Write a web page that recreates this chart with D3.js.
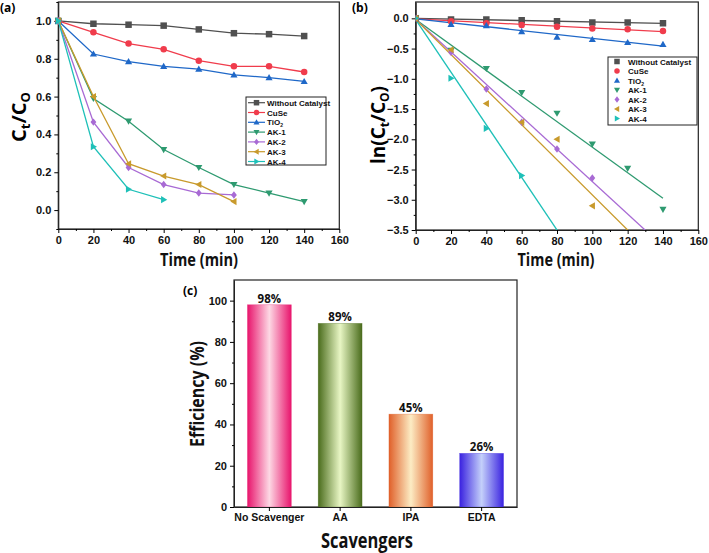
<!DOCTYPE html>
<html><head><meta charset="utf-8">
<script src="https://cdn.jsdelivr.net/npm/d3@7"></script>
<style>
body{margin:0;background:#fff;}
svg{font-family:"Open Sans",sans-serif;}
.tick text{font-weight:700;font-size:11px;fill:#111;}
.domain{stroke:#222;}
</style></head><body>
<svg id="c" width="709" height="553"></svg>
<script>
// ---------- data ----------
const times = [0,20,40,60,80,100,120,140];
const seriesNames = ["Without Catalyst","CuSe","TiO2","AK-1","AK-2","AK-3","AK-4"];
const seriesColors = ["#505050","#f03c4c","#1f68c8","#2e9a70","#a86ad4","#c89a2c","#1ec0b8"];
const seriesSymbols = ["square","circle","up","down","diamond","left","right"];
const ratioWithout = [1.0,0.985,0.98,0.975,0.955,0.935,0.93,0.92];
const ratioCuSe    = [1.0,0.94,0.88,0.85,0.79,0.76,0.76,0.73];
const ratioTiO2    = [1.0,0.825,0.785,0.76,0.745,0.715,0.70,0.68];
const ratioAK1     = [1.0,0.59,0.47,0.32,0.225,0.135,0.09,0.045];
const ratioAK2     = [1.0,0.465,0.225,0.135,0.09,0.08];
const ratioAK3     = [1.0,0.60,0.245,0.18,0.135,0.045];
const ratioAK4     = [1.0,0.335,0.11,0.055];
const lnWithout = [0,-0.02,-0.02,-0.03,-0.05,-0.07,-0.07,-0.08];
const lnCuSe    = [0,-0.05,-0.08,-0.11,-0.14,-0.17,-0.18,-0.21];
const lnTiO2    = [0,-0.10,-0.12,-0.22,-0.31,-0.35,-0.40,-0.43];
const lnAK1     = [0,-0.53,-0.83,-1.23,-1.57,-2.08,-2.48,-3.16];
const lnAK2     = [0,-0.56,-1.17,-1.72,-2.16,-2.64];
const lnAK3     = [0,-0.52,-1.41,-1.72,-2.00,-3.10];
const lnAK4     = [0,-0.99,-1.82,-2.60];
const fitIntercept = [0,-0.01,-0.01,-0.02,-0.02,-0.02,-0.02];
const fitSlope     = [-0.0006,-0.0015,-0.0032,-0.0211,-0.0268,-0.0290,-0.0435];
const scavengers = ["No Scavenger","AA","IPA","EDTA"];
const efficiency = [98,89,45,26];
const barEdge   = ["#e8146c","#4a6c1c","#e0602a","#3a22e0"];
const barCenter = ["#fdd8e4","#e8f6c4","#fcecc4","#c4d0fa"];
const xTicksTime = [0,20,40,60,80,100,120,140,160];
const yTicksA = [0,0.2,0.4,0.6,0.8,1.0];
const yTicksB = [0,-0.5,-1.0,-1.5,-2.0,-2.5,-3.0,-3.5];
const yTicksC = [0,20,40,60,80,100];

const ratioData = [ratioWithout,ratioCuSe,ratioTiO2,ratioAK1,ratioAK2,ratioAK3,ratioAK4];
const lnData = [lnWithout,lnCuSe,lnTiO2,lnAK1,lnAK2,lnAK3,lnAK4];

const svg = d3.select("#c");

function symPath(type, s){
  const r=s/2;
  switch(type){
    case "square": return `M${-r},${-r}h${s}v${s}h${-s}Z`;
    case "circle": return d3.symbol(d3.symbolCircle, Math.PI*r*r)();
    case "up": return `M0,${-r*1.1}L${r*1.1},${r*0.8}L${-r*1.1},${r*0.8}Z`;
    case "down": return `M0,${r*1.1}L${r*1.1},${-r*0.8}L${-r*1.1},${-r*0.8}Z`;
    case "diamond": return `M0,${-r*1.15}L${r*0.9},0L0,${r*1.15}L${-r*0.9},0Z`;
    case "left": return `M${-r*1.1},0L${r*0.8},${-r*1.1}L${r*0.8},${r*1.1}Z`;
    case "right": return `M${r*1.1},0L${-r*0.8},${-r*1.1}L${-r*0.8},${r*1.1}Z`;
  }
}

function frame(g,x0,x1,y0,y1){
  g.append("rect").attr("x",x0).attr("y",y0).attr("width",x1-x0).attr("height",y1-y0)
   .attr("fill","none").attr("stroke","#222").attr("stroke-width",1.2);
}

function axes(g, x, y, xt, yt, xminor, yminor, fmtY){
  const [yb] = y.range();
  const [xl] = x.range();
  g.append("g").attr("transform",`translate(0,${yb})`)
    .call(d3.axisBottom(x).tickValues(xt).tickSize(4).tickSizeOuter(0).tickFormat(d3.format("d")))
    .call(s=>s.select(".domain").attr("stroke","#3a3a8a"));
  g.append("g").attr("transform",`translate(0,${yb})`)
    .call(d3.axisBottom(x).tickValues(xminor).tickSize(2).tickFormat(""))
    .call(s=>s.select(".domain").remove());
  g.append("g").attr("transform",`translate(${xl},0)`)
    .call(d3.axisLeft(y).tickValues(yt).tickSize(4).tickSizeOuter(0).tickFormat(fmtY));
  g.append("g").attr("transform",`translate(${xl},0)`)
    .call(d3.axisLeft(y).tickValues(yminor).tickSize(2).tickFormat(""))
    .call(s=>s.select(".domain").remove());
}

function title(x,y,txt,size,len,rot){
  const t = svg.append("text").attr("text-anchor","middle").attr("font-size",size).attr("font-weight",700)
    .attr("fill","#111").attr("textLength",len).attr("lengthAdjust","spacingAndGlyphs").text(txt);
  t.attr("transform",`translate(${x},${y})`+(rot?" rotate(-90)":""));
  return t;
}

// ---------- panel (a) ----------
{
  const g = svg.append("g");
  const x = d3.scaleLinear().domain([0,160]).range([58.3,339.3]);
  const y = d3.scaleLinear().domain([-0.1,1.1]).range([229,2]);
  frame(g,58.3,339.3,2,229);
  axes(g,x,y,xTicksTime,yTicksA,d3.range(10,160,20),d3.range(-0.1,1.1,0.2).map(v=>+v.toFixed(2)),d3.format(".1f"));
  const line = d3.line().x((d,i)=>x(times[i])).y(d=>y(d));
  ratioData.forEach((arr,k)=>{
    g.append("path").attr("d",line(arr)).attr("fill","none").attr("stroke",seriesColors[k]).attr("stroke-width",1.3);
    g.selectAll(null).data(arr).enter().append("path")
      .attr("transform",(d,i)=>`translate(${x(times[i])},${y(d)})`)
      .attr("d",symPath(seriesSymbols[k],6.5)).attr("fill",seriesColors[k]);
  });
  const lg = g.append("g");
  lg.append("rect").attr("x",246).attr("y",97).attr("width",80).attr("height",68).attr("fill","#fff").attr("stroke","#222").attr("stroke-width",1);
  seriesNames.forEach((n,k)=>{
    const yy = 102.7 + k*9.8;
    lg.append("line").attr("x1",248).attr("x2",265).attr("y1",yy).attr("y2",yy).attr("stroke",seriesColors[k]).attr("stroke-width",1.2);
    lg.append("path").attr("transform",`translate(256.5,${yy})`).attr("d",symPath(seriesSymbols[k],5.5)).attr("fill",seriesColors[k]);
    const t = lg.append("text").attr("x",267).attr("y",yy+3).attr("font-family","Liberation Sans, Arial").attr("font-weight",700).attr("font-size",8).attr("fill","#111");
    if(n==="TiO2"){ t.text("TiO"); t.append("tspan").attr("font-size",5).attr("dy",2).text("2"); }
    else t.text(n);
  });
  svg.append("text").attr("x",0).attr("y",12).attr("font-size",12).attr("font-weight",700).text("(a)");
  const yt = svg.append("text").attr("transform","translate(26,117) rotate(-90)").attr("text-anchor","middle").attr("font-size",20).attr("font-weight",700);
  yt.append("tspan").text("C");
  yt.append("tspan").attr("font-size",13).attr("dy",4).text("t");
  yt.append("tspan").attr("dy",-4).text("/C");
  yt.append("tspan").attr("font-size",13).attr("dy",4).text("O");
  title(199,266,"Time (min)",17,78,false);
}

// ---------- panel (b) ----------
{
  const g = svg.append("g");
  const x = d3.scaleLinear().domain([0,160]).range([415.7,698.3]);
  const y = d3.scaleLinear().domain([-3.5,0.27]).range([230,2]);
  frame(g,415.7,698.3,2,230);
  axes(g,x,y,xTicksTime,yTicksB,d3.range(10,160,20),d3.range(-3.25,0.25,0.5).map(v=>+v.toFixed(2)),d3.format(".1f"));
  svg.append("defs").append("clipPath").attr("id","clipb").append("rect").attr("x",415.7).attr("y",2).attr("width",282.6).attr("height",228);
  const pg = g.append("g").attr("clip-path","url(#clipb)");
  lnData.forEach((arr,k)=>{
    const fit = [0,140].map(t=>[t,fitIntercept[k]+fitSlope[k]*t]);
    pg.append("path").attr("d",d3.line().x(d=>x(d[0])).y(d=>y(d[1]))(fit)).attr("fill","none").attr("stroke",seriesColors[k]).attr("stroke-width",1.3);
  });
  lnData.forEach((arr,k)=>{
    pg.selectAll(null).data(arr).enter().append("path")
      .attr("transform",(d,i)=>`translate(${x(times[i])},${y(d)})`)
      .attr("d",symPath(seriesSymbols[k],6.5)).attr("fill",seriesColors[k]);
  });
  const lg = g.append("g");
  lg.append("rect").attr("x",608).attr("y",57).attr("width",89).attr("height",68).attr("fill","#fff").attr("stroke","#222").attr("stroke-width",1);
  seriesNames.forEach((n,k)=>{
    const yy = 61.5 + k*9.5;
    lg.append("path").attr("transform",`translate(617,${yy})`).attr("d",symPath(seriesSymbols[k],5.5)).attr("fill",seriesColors[k]);
    const t = lg.append("text").attr("x",628).attr("y",yy+3).attr("font-family","Liberation Sans, Arial").attr("font-weight",700).attr("font-size",8).attr("fill","#111");
    if(n==="TiO2"){ t.text("TiO"); t.append("tspan").attr("font-size",5).attr("dy",2).text("2"); }
    else t.text(n);
  });
  svg.append("text").attr("x",352).attr("y",12).attr("font-size",12).attr("font-weight",700).text("(b)");
  const yt = svg.append("text").attr("transform","translate(385,125) rotate(-90)").attr("text-anchor","middle").attr("font-size",19).attr("font-weight",700);
  yt.append("tspan").text("ln(C");
  yt.append("tspan").attr("font-size",12).attr("dy",4).text("t");
  yt.append("tspan").attr("dy",-4).text("/C");
  yt.append("tspan").attr("font-size",12).attr("dy",4).text("O");
  yt.append("tspan").attr("dy",-4).text(")");
  title(556,266,"Time (min)",17,77,false);
}

// ---------- panel (c) ----------
{
  const g = svg.append("g");
  const x = d3.scaleBand().domain(scavengers).range([234,517]).padding(0);
  const y = d3.scaleLinear().domain([0,110]).range([507,280]);
  const defs = svg.append("defs");
  scavengers.forEach((s,i)=>{
    const gr = defs.append("linearGradient").attr("id","bg"+i).attr("x1","0%").attr("x2","100%").attr("y1","0%").attr("y2","0%");
    gr.append("stop").attr("offset","0%").attr("stop-color",barEdge[i]);
    gr.append("stop").attr("offset","50%").attr("stop-color",barCenter[i]);
    gr.append("stop").attr("offset","100%").attr("stop-color",barEdge[i]);
  });
  frame(g,234,517,280,507);
  const bw = x.bandwidth()*0.62;
  g.selectAll(null).data(efficiency).enter().append("rect")
    .attr("x",(d,i)=>x(scavengers[i])+x.bandwidth()/2-bw/2).attr("width",bw)
    .attr("y",d=>y(d)).attr("height",d=>y(0)-y(d))
    .attr("fill",(d,i)=>`url(#bg${i})`).attr("stroke",(d,i)=>barEdge[i]).attr("stroke-opacity",0.5).attr("stroke-width",0.6);
  g.selectAll(null).data(efficiency).enter().append("text")
    .attr("x",(d,i)=>x(scavengers[i])+x.bandwidth()/2).attr("y",d=>y(d)-2)
    .attr("text-anchor","middle").attr("font-size",11.5).attr("font-weight",700).attr("fill","#111").text(d=>d+"%");
  g.append("g").attr("transform","translate(0,507)")
    .call(d3.axisBottom(x).tickSize(4).tickSizeOuter(0))
    .call(s=>s.selectAll(".tick text").attr("font-size",10.5).style("font-size","10.5px"))
    .call(s=>s.select(".domain").attr("stroke","#3a3a8a"));
  g.append("g").attr("transform","translate(234,0)")
    .call(d3.axisLeft(y).tickValues(yTicksC).tickSize(4).tickSizeOuter(0));
  g.append("g").attr("transform","translate(234,0)")
    .call(d3.axisLeft(y).tickValues(d3.range(10,110,20)).tickSize(2).tickFormat(""))
    .call(s=>s.select(".domain").remove());
  svg.append("text").attr("x",183).attr("y",295).attr("font-size",12).attr("font-weight",700).text("(c)");
  title(204,394,"Efficiency (%)",19,106,true);
  title(367,548,"Scavengers",21,92,false);
}
</script></body></html>
